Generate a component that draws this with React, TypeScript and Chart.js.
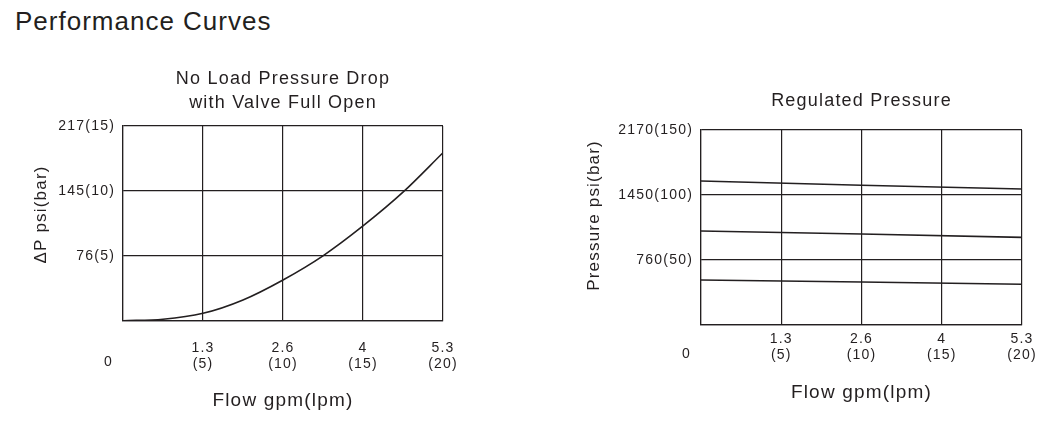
import React, { useEffect, useRef } from "react";
import { Chart, registerables } from "chart.js";

Chart.register(...registerables);

// ---------- data ----------
const FLOW_TICKS = [0, 5, 10, 15, 20]; // lpm
const FLOW_TICK_LABELS: string[][] = [[""], ["1.3", "(5)"], ["2.6", "(10)"], ["4", "(15)"], ["5.3", "(20)"]];

const DROP_TICKS = [0, 5, 10, 15]; // bar
const DROP_TICK_LABELS = ["", "76(5)", "145(10)", "217(15)"];

const REG_TICKS = [0, 50, 100, 150]; // bar
const REG_TICK_LABELS = ["", "760(50)", "1450(100)", "2170(150)"];

// No-load pressure drop curve (flow lpm -> bar)
const DROP_FLOW = [0, 2.5, 5, 7.5, 10, 12.5, 15, 17.5, 20];
const DROP_BAR = [0, 0.11, 0.57, 1.6, 3.14, 5.0, 7.3, 9.9, 12.94];

// Regulated pressure lines (flow lpm -> bar)
const REG_FLOW = [0, 10, 20];
const REG_HIGH = [110.7, 107.4, 104.5];
const REG_MID = [72.1, 69.8, 67.2];
const REG_LOW = [34.3, 32.8, 31.0];

// ---------- styles ----------
const INK = "#231f20";
const FAMILY = '"Liberation Sans", Arial, Helvetica, sans-serif';

const spacingPlugin = {
  id: "letterSpacing",
  beforeDraw(chart: any) {
    (chart.ctx as any).letterSpacing = "1.2px";
  },
};

const originPlugin = {
  id: "originLabel",
  afterDraw(chart: any, _args: any, opts: any) {
    const { ctx, chartArea } = chart;
    ctx.save();
    ctx.font = `14px ${FAMILY}`;
    ctx.fillStyle = INK;
    ctx.textAlign = "center";
    ctx.textBaseline = "middle";
    ctx.fillText(opts.text, chartArea.left + opts.dx, chartArea.bottom + opts.dy);
    ctx.restore();
  },
};

const toPoints = (xs: number[], ys: number[]) => xs.map((x, i) => ({ x, y: ys[i] }));

function lineDataset(xs: number[], ys: number[], tension: number) {
  return {
    data: toPoints(xs, ys),
    borderColor: INK,
    borderWidth: 1.6,
    pointRadius: 0,
    fill: false,
    tension,
    cubicInterpolationMode: tension > 0 ? "monotone" : "default",
  };
}

type Geo = {
  yWidth: number;
  xHeight: number;
  padRight: number;
  padBottom: number;
  titleTop: number;
  titleBottom: number;
  yTitlePad: number;
  xTickPad: number;
  originDy: number;
};

function makeConfig(
  title: string | string[],
  yTitle: string,
  yMax: number,
  yTicks: number[],
  yLabels: string[],
  datasets: any[],
  g: Geo
) {
  return {
    type: "line",
    data: { datasets },
    options: {
      animation: false,
      responsive: false,
      maintainAspectRatio: false,
      events: [],
      layout: { padding: { left: 0, top: 0, right: g.padRight, bottom: g.padBottom } },
      plugins: {
        legend: { display: false },
        tooltip: { enabled: false },
        title: {
          display: true,
          text: title,
          fullSize: false,
          color: INK,
          font: { family: FAMILY, size: 18, weight: "normal", lineHeight: 24 / 18 },
          padding: { top: g.titleTop, bottom: g.titleBottom },
        },
        originLabel: { text: "0", dx: -14.5, dy: g.originDy },
      },
      scales: {
        x: {
          type: "linear",
          min: 0,
          max: 20,
          afterBuildTicks: (s: any) => {
            s.ticks = FLOW_TICKS.map((v) => ({ value: v }));
          },
          afterFit: (s: any) => {
            s.height = g.xHeight;
            s.paddingLeft = 0;
            s.paddingRight = 0;
          },
          ticks: {
            autoSkip: false,
            maxRotation: 0,
            minRotation: 0,
            padding: g.xTickPad,
            color: INK,
            font: { family: FAMILY, size: 14, lineHeight: 16 / 14 },
            callback: (v: number) => {
              const i = FLOW_TICKS.indexOf(v);
              return i >= 0 ? FLOW_TICK_LABELS[i] : "";
            },
          },
          grid: { color: INK, lineWidth: 1.2, drawTicks: false },
          border: { color: INK, width: 1.2 },
          title: {
            display: true,
            text: "Flow gpm(lpm)",
            color: INK,
            font: { family: FAMILY, size: 19, lineHeight: 1.2 },
            padding: { top: 0, bottom: 0 },
          },
        },
        y: {
          type: "linear",
          min: 0,
          max: yMax,
          afterBuildTicks: (s: any) => {
            s.ticks = yTicks.map((v) => ({ value: v }));
          },
          afterFit: (s: any) => {
            s.width = g.yWidth;
            s.paddingTop = 0;
            s.paddingBottom = 0;
          },
          ticks: {
            autoSkip: false,
            padding: 8,
            color: INK,
            font: { family: FAMILY, size: 14, lineHeight: 1.2 },
            callback: (v: number) => {
              const i = yTicks.indexOf(v);
              return i >= 0 ? yLabels[i] : "";
            },
          },
          grid: { color: INK, lineWidth: 1.2, drawTicks: false },
          border: { color: INK, width: 1.2 },
          title: {
            display: true,
            text: yTitle,
            color: INK,
            font: { family: FAMILY, size: 17, lineHeight: 1.2 },
            padding: { top: g.yTitlePad, bottom: 0 },
          },
        },
      },
    },
    plugins: [spacingPlugin, originPlugin],
  };
}

function ChartCanvas({ build, left, width }: { build: () => any; left: number; width: number }) {
  const ref = useRef<HTMLCanvasElement | null>(null);
  useEffect(() => {
    if (!ref.current) return;
    const chart = new Chart(ref.current, build());
    return () => chart.destroy();
  }, []);
  return (
    <canvas
      ref={ref}
      width={width}
      height={424}
      style={{ position: "absolute", left, top: 0, width, height: 424 }}
    />
  );
}

const buildDrop = () =>
  makeConfig(
    ["No Load Pressure Drop", "with Valve Full Open"],
    "   ΔP psi(bar)",
    15,
    DROP_TICKS,
    DROP_TICK_LABELS,
    [lineDataset(DROP_FLOW, DROP_BAR, 0.4)],
    {
      yWidth: 123,
      xHeight: 91.7,
      padRight: 37,
      padBottom: 11.6,
      titleTop: 67,
      titleBottom: 11,
      yTitlePad: 31.3,
      xTickPad: 19.3,
      originDy: 41.3,
    }
  );

const buildReg = () =>
  makeConfig(
    "Regulated Pressure",
    "    Pressure psi(bar)",
    150,
    REG_TICKS,
    REG_TICK_LABELS,
    [
      lineDataset(REG_FLOW, REG_HIGH, 0),
      lineDataset(REG_FLOW, REG_MID, 0),
      lineDataset(REG_FLOW, REG_LOW, 0),
    ],
    {
      yWidth: 161,
      xHeight: 79.9,
      padRight: 24,
      padBottom: 19.6,
      titleTop: 89,
      titleBottom: 17,
      yTitlePad: 44.3,
      xTickPad: 6.5,
      originDy: 30,
    }
  );

export default function App() {
  return (
    <div style={{ position: "absolute", left: 0, top: 0, width: 1046, height: 424, background: "#fff" }}>
      <div
        style={{
          position: "absolute",
          left: 15,
          top: 8,
          fontFamily: FAMILY,
          fontSize: 26,
          lineHeight: "26px",
          letterSpacing: "1px",
          color: INK,
          whiteSpace: "nowrap",
        }}
      >
        Performance Curves
      </div>
      <ChartCanvas build={buildDrop} left={0} width={480} />
      <ChartCanvas build={buildReg} left={540} width={506} />
    </div>
  );
}
